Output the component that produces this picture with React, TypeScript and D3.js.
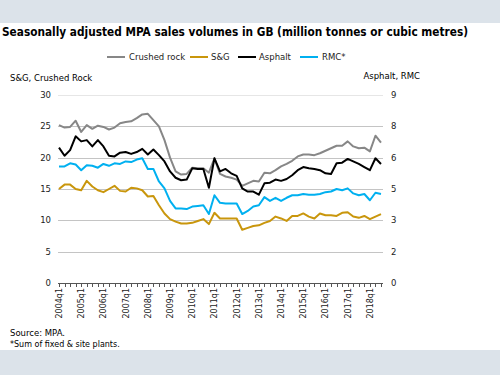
import React from "react";
import * as d3 from "d3";

const quarters: string[] = [];
for (let y = 2004; y <= 2018; y++) for (let q = 1; q <= 4; q++) if (!(y === 2018 && q === 4)) quarters.push(`${y}q${q}`);

// Left axis (million tonnes)
const crushedRock = [25.2, 24.8, 24.9, 25.9, 24.1, 25.2, 24.6, 25.1, 24.9, 24.5, 24.8, 25.5, 25.7, 25.8, 26.3, 26.9, 27.0, 26.0, 25.0, 22.8, 20.0, 17.8, 17.3, 17.4, 18.4, 18.3, 18.3, 17.6, 19.9, 17.4, 17.0, 16.8, 16.5, 15.5, 15.9, 16.3, 16.2, 17.6, 17.5, 18.0, 18.6, 19.0, 19.5, 20.2, 20.5, 20.5, 20.4, 20.7, 21.1, 21.5, 21.9, 21.9, 22.6, 21.8, 21.5, 21.6, 21.0, 23.5, 22.4];
const sandGravel = [15.0, 15.7, 15.7, 15.0, 14.8, 16.3, 15.4, 14.8, 14.5, 15.0, 15.5, 14.7, 14.6, 15.2, 15.1, 14.8, 13.8, 13.9, 12.4, 11.1, 10.2, 9.8, 9.5, 9.5, 9.6, 9.9, 10.2, 9.4, 11.2, 10.3, 10.3, 10.3, 10.3, 8.5, 8.8, 9.1, 9.2, 9.6, 9.9, 10.6, 10.3, 9.9, 10.7, 10.7, 11.1, 10.6, 10.3, 11.1, 10.8, 10.8, 10.7, 11.2, 11.3, 10.6, 10.4, 10.7, 10.2, 10.6, 11.0];
// Right axis (million tonnes / cubic metres)
const asphalt = [6.48, 6.09, 6.36, 7.02, 6.78, 6.84, 6.54, 6.84, 6.54, 6.09, 6.06, 6.24, 6.27, 6.18, 6.27, 6.42, 6.15, 6.39, 6.12, 5.82, 5.34, 5.04, 4.92, 4.95, 5.49, 5.46, 5.46, 4.56, 5.97, 5.34, 5.46, 5.25, 5.13, 4.53, 4.38, 4.38, 4.23, 4.77, 4.8, 4.95, 4.89, 4.98, 5.16, 5.4, 5.55, 5.49, 5.46, 5.4, 5.25, 5.22, 5.73, 5.76, 5.94, 5.82, 5.7, 5.55, 5.4, 5.97, 5.7];
const rmc = [5.58, 5.58, 5.73, 5.67, 5.4, 5.64, 5.61, 5.52, 5.7, 5.61, 5.73, 5.7, 5.82, 5.79, 5.91, 5.97, 5.46, 5.46, 4.86, 4.53, 3.93, 3.57, 3.57, 3.54, 3.66, 3.69, 3.72, 3.3, 4.2, 3.84, 3.81, 3.81, 3.81, 3.3, 3.45, 3.66, 3.72, 4.11, 3.93, 4.08, 3.93, 4.08, 4.2, 4.2, 4.26, 4.23, 4.23, 4.26, 4.35, 4.38, 4.5, 4.44, 4.53, 4.29, 4.2, 4.26, 3.96, 4.32, 4.26];

const leftTicks = [0, 5, 10, 15, 20, 25, 30];
const rightTicks = [0, 1.5, 3, 4.5, 6, 7.5, 9];
const rightTickLabels = ["0", "2", "3", "5", "6", "8", "9"];

const series = [
  { name: "Crushed rock", values: crushedRock, axis: "L", color: "#878787" },
  { name: "S&G", values: sandGravel, axis: "L", color: "#c9960c" },
  { name: "Asphalt", values: asphalt, axis: "R", color: "#000000" },
  { name: "RMC*", values: rmc, axis: "R", color: "#00b0f0" },
];

const FONT = "DejaVu Sans, Verdana, sans-serif";

export default function App() {
  const W = 500, H = 375;
  const x = d3.scalePoint<number>().domain(d3.range(quarters.length)).range([59, 381]);
  const yL = d3.scaleLinear().domain([0, 30]).range([283, 95]);
  const yR = d3.scaleLinear().domain([0, 9]).range([283, 95]);
  const line = (vals: number[], sc: d3.ScaleLinear<number, number>) =>
    d3.line<number>().x((_, i) => x(i)!).y((v) => sc(v))(vals) || "";

  const legendItems = [
    { name: "Crushed rock", color: "#878787", x0: 107, tx: 129 },
    { name: "S&G", color: "#c9960c", x0: 190, tx: 211 },
    { name: "Asphalt", color: "#000000", x0: 238, tx: 259 },
    { name: "RMC*", color: "#00b0f0", x0: 300, tx: 322 },
  ];

  return (
    <div style={{ position: "absolute", left: 0, top: 0 }}>
      <svg width={W} height={H} style={{ display: "block" }} fontFamily={FONT}>
        <rect x={0} y={0} width={W} height={H} fill="#ffffff" />
        <rect x={0} y={0} width={W} height={23} fill="#dce3ea" />
        <rect x={0} y={350} width={W} height={25} fill="#dce3ea" />
        <text x={2} y={36} fontSize={11.5} fontWeight="bold" fill="#000" fontFamily="DejaVu Sans Condensed, DejaVu Sans, sans-serif" textLength={466} lengthAdjust="spacingAndGlyphs">
          Seasonally adjusted MPA sales volumes in GB (million tonnes or cubic metres)
        </text>
        {legendItems.map((l) => (
          <g key={l.name}>
            <line x1={l.x0} x2={l.x0 + 18} y1={57} y2={57} stroke={l.color} strokeWidth={2} />
            <text x={l.tx} y={60} fontSize={8.5} fill="#222">{l.name}</text>
          </g>
        ))}
        <text x={10} y={81} fontSize={8.5} fill="#000">S&amp;G, Crushed Rock</text>
        <text x={420} y={79} fontSize={8.5} fill="#000" textAnchor="end">Asphalt, RMC</text>
        {leftTicks.map((t) => (
          <g key={t}>
            {t > 0 && <line x1={58} x2={383} y1={Math.round(yL(t)) + 0.5} y2={Math.round(yL(t)) + 0.5} stroke={t === 30 ? "#e6e6e6" : "#c4c4c4"} strokeWidth={1} />}
            <text x={51} y={yL(t) + 3} fontSize={8.5} textAnchor="end" fill="#222">{t}</text>
          </g>
        ))}
        {rightTicks.map((t, i) => (
          <text key={t} x={391} y={yR(t) + 3} fontSize={8.5} fill="#222">{rightTickLabels[i]}</text>
        ))}
        <line x1={58} x2={383} y1={283.5} y2={283.5} stroke="#555" strokeWidth={1} />
        {quarters.map((q, i) => (
          <line key={q} x1={Math.round(x(i)!) + 0.5} x2={Math.round(x(i)!) + 0.5} y1={283} y2={287} stroke="#555" strokeWidth={1} />
        ))}
        {quarters.map((q, i) =>
          i % 4 === 0 ? (
            <text key={q} transform={`translate(${x(i)! + 3},${288}) rotate(-90)`} fontSize={8} textAnchor="end" fill="#222">{q}</text>
          ) : null
        )}
        {series.map((s) => (
          <path key={s.name} d={line(s.values, s.axis === "L" ? yL : yR)} fill="none" stroke={s.color} strokeWidth={2} strokeLinejoin="round" />
        ))}
        <text x={10} y={336} fontSize={8.5} fill="#000">Source: MPA.</text>
        <text x={10} y={347} fontSize={8} fill="#000">*Sum of fixed &amp; site plants.</text>
      </svg>
    </div>
  );
}
